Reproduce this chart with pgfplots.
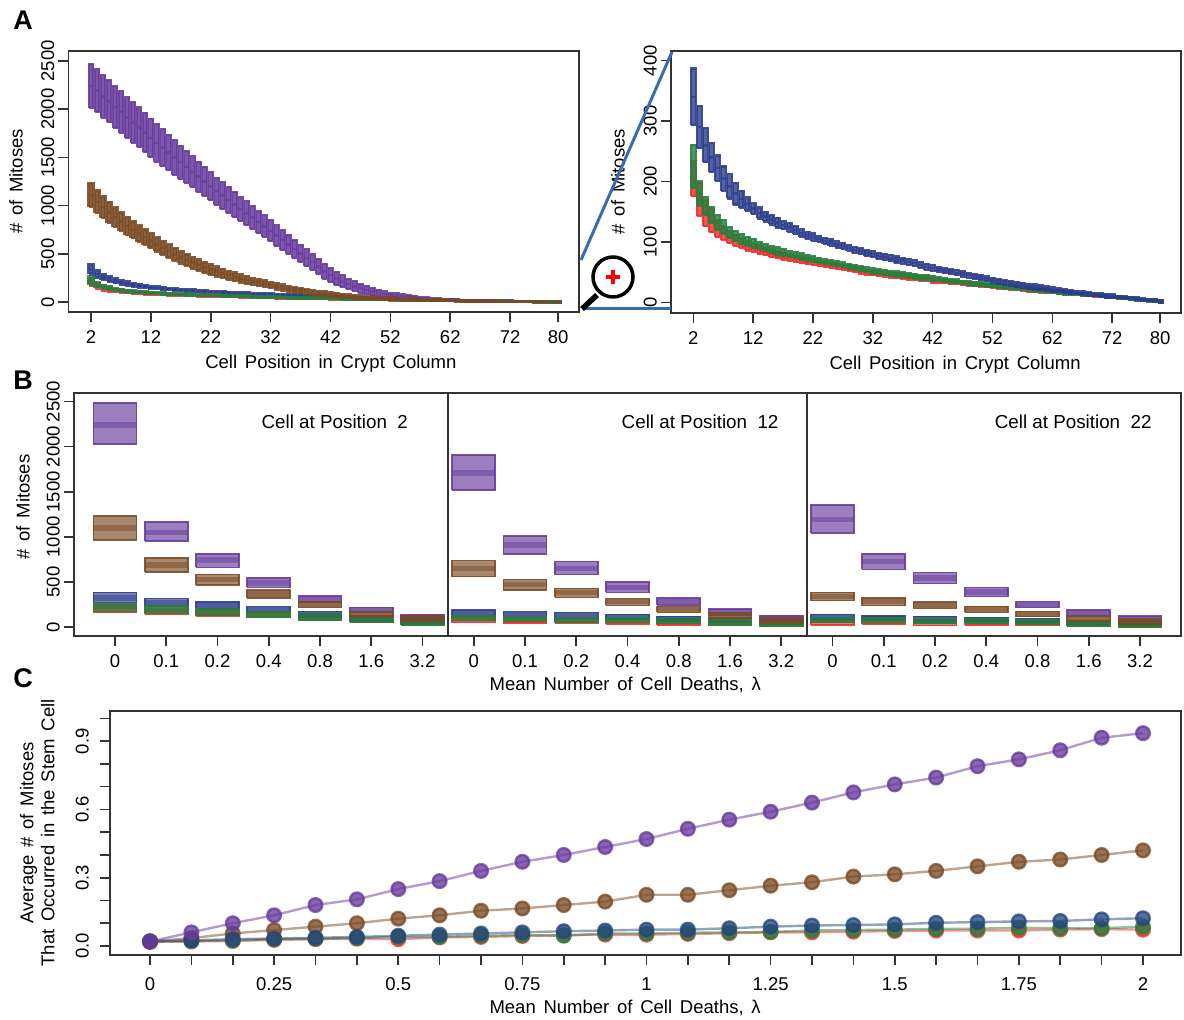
\documentclass[border=0pt]{standalone}
\usepackage{fontspec}
\setmainfont{Liberation Sans}
\usepackage{pgfplots}
\usepackage{pgfplotstable}
\pgfplotsset{compat=1.18}
\definecolor{cP}{HTML}{663A9C}
\definecolor{cBr}{HTML}{7A4A24}
\definecolor{cB}{HTML}{2B3C8C}
\definecolor{cG}{HTML}{26803C}
\definecolor{cR}{HTML}{EE2B2B}
\definecolor{cBc}{HTML}{24467F}
\definecolor{axisc}{HTML}{333333}
\definecolor{linkc}{HTML}{3B6AAE}
\pgfplotstableread[row sep=\\]{x m e\\
2 2240 225\\3 2190 222\\4 2130 220\\5 2080 218\\6 2020 216\\7 1970 214\\8 1910 212\\9 1860 210\\10 1810 206\\11 1755 203\\12 1700 200\\13 1650 195\\14 1600 190\\15 1550 185\\16 1500 178\\17 1450 172\\18 1400 167\\19 1350 161\\20 1300 155\\21 1250 150\\22 1200 145\\23 1150 141\\24 1105 138\\25 1060 134\\26 1010 131\\27 965 127\\28 920 124\\29 875 120\\30 830 117\\31 785 113\\32 740 110\\33 690 106\\34 645 103\\35 600 99\\36 550 96\\37 505 92\\38 460 88\\39 415 85\\40 370 81\\41 320 78\\42 280 75\\43 245 70\\44 215 62\\45 190 55\\46 165 50\\47 145 45\\48 125 40\\49 110 36\\50 95 32\\51 85 28\\52 75 25\\53 68 23\\54 60 21\\55 54 19\\56 48 17\\57 43 15\\58 38 14\\59 34 13\\60 30 12\\61 27 11\\62 25 10\\63 22 9\\64 20 8\\65 18 8\\66 16 7\\67 14 7\\68 12 6\\69 11 6\\70 10 6\\71 9 5\\72 8 5\\73 7 4\\74 6 4\\75 5 4\\76 4.5 3\\77 4 3\\78 3 3\\79 2.5 2\\80 2 2\\
}\posP
\pgfplotstableread[row sep=\\]{x m e\\
2 1110 125\\3 1040 118\\4 985 112\\5 930 106\\6 880 100\\7 835 96\\8 790 92\\9 750 87\\10 710 83\\11 675 79\\12 640 75\\13 600 72\\14 563 69\\15 528 67\\16 495 64\\17 465 62\\18 436 60\\19 409 58\\20 384 56\\21 360 54\\22 338 52\\23 317 50\\24 298 47\\25 280 45\\26 262 43\\27 246 41\\28 231 39\\29 216 37\\30 203 35\\31 190 33\\32 178 31\\33 165 30\\34 152 29\\35 141 28\\36 130 27\\37 120 26\\38 112 25\\39 103 24\\40 95 23\\41 87 22\\42 80 22\\43 74 20\\44 68 19\\45 62 18\\46 57 17\\47 52 16\\48 48 15\\49 44 14\\50 41 13\\51 38 13\\52 35 12\\53 33 11\\54 31 11\\55 29 10\\56 27 10\\57 25 9\\58 23 9\\59 22 8\\60 20 8\\61 19 8\\62 18 7\\63 17 7\\64 16 6\\65 15 6\\66 14 6\\67 13 5\\68 12 5\\69 11 5\\70 10 4\\71 9 4\\72 8 4\\73 7 4\\74 6 3\\75 5.5 3\\76 5 3\\77 4 3\\78 3 2\\79 2.5 2\\80 2 2\\
}\posBr
\pgfplotstableread[row sep=\\]{x m e\\
2 340 47\\3 290 35\\4 260 28\\5 240 24\\6 222 21\\7 205 20\\8 192 20\\9 180 18\\10 171 14\\11 163 11\\12 155 9\\13 148 9\\14 142 8\\15 137 8\\16 132 8\\17 128 7\\18 124 7\\19 120 7\\20 115 6\\21 111 6\\22 108 6\\23 105 5\\24 102 5\\25 99 5\\26 96 5\\27 93 5\\28 90 5\\29 87 5\\30 85 5\\31 82 5\\32 80 5\\33 77 5\\34 75 5\\35 73 5\\36 71 5\\37 69 5\\38 67 5\\39 65 5\\40 62 5\\41 59 5\\42 57 5\\43 55 4\\44 53 4\\45 51 4\\46 49 4\\47 47 4\\48 45 4\\49 43 4\\50 41 4\\51 39 4\\52 37 4\\53 35 4\\54 33 4\\55 31.5 4\\56 30 4\\57 28.5 4\\58 27 4\\59 25.5 4\\60 24 4\\61 22.5 4\\62 21 4\\63 20 3\\64 19 3\\65 17.5 3\\66 16.5 3\\67 15 3\\68 14 3\\69 13 3\\70 12 3\\71 11 3\\72 10 3\\73 9 2\\74 8 2\\75 7 2\\76 6 2\\77 5 2\\78 4 2\\79 3 2\\80 2 2\\
}\posB
\pgfplotstableread[row sep=\\]{x m e\\
2 225 36\\3 180 20\\4 160 15\\5 145 13\\6 132 12\\7 125 11\\8 116 9\\9 110 8\\10 105 8\\11 101 7\\12 98 7\\13 94 6\\14 91 6\\15 88 6\\16 85 6\\17 83 6\\18 80 5\\19 78 5\\20 76 5\\21 74 5\\22 72 5\\23 70 4\\24 68 4\\25 66 4\\26 64 4\\27 62 4\\28 60 4\\29 58 4\\30 56 4\\31 54 4\\32 52 4\\33 51 4\\34 49 4\\35 48 4\\36 47 4\\37 46 4\\38 45 4\\39 43 4\\40 42 4\\41 41 4\\42 40 4\\43 39 3\\44 37 3\\45 36 3\\46 35 3\\47 33 3\\48 32 3\\49 31 3\\50 30 3\\51 29 3\\52 28 3\\53 27 3\\54 26 3\\55 25 3\\56 24 3\\57 23 3\\58 22 3\\59 21 3\\60 20 3\\61 19 3\\62 18 3\\63 17 3\\64 16 3\\65 15 3\\66 14 2\\67 13.5 2\\68 13 2\\69 12 2\\70 11 2\\71 10 2\\72 9 2\\73 8 2\\74 7 2\\75 6 2\\76 5 2\\77 4 2\\78 3.5 2\\79 3 2\\80 2 2\\
}\posG
\pgfplotstableread[row sep=\\]{x m e\\
2 205 29\\3 170 27\\4 148 22\\5 135 19\\6 122 14\\7 115 12\\8 108 10\\9 103 9\\10 98 8\\11 94 8\\12 90 6\\13 87 6\\14 84 6\\15 81 6\\16 78 5\\17 76 5\\18 74 5\\19 72 5\\20 70 5\\21 68 5\\22 67 5\\23 65 4\\24 63 4\\25 61 4\\26 60 4\\27 58 4\\28 56 4\\29 54 4\\30 52 4\\31 50 4\\32 49 4\\33 48 4\\34 47 4\\35 45 4\\36 44 4\\37 43 4\\38 42 4\\39 41 4\\40 40 4\\41 39 4\\42 37 4\\43 36 3\\44 35 3\\45 34 3\\46 33 3\\47 32 3\\48 31 3\\49 30 3\\50 29 3\\51 28 3\\52 27 3\\53 26 3\\54 25 3\\55 24 3\\56 23 3\\57 22 3\\58 21 3\\59 20 3\\60 19 3\\61 18.5 3\\62 18 3\\63 17 3\\64 16 3\\65 15 3\\66 14 2\\67 13 2\\68 12 2\\69 11 2\\70 10.5 2\\71 10 2\\72 9 2\\73 8 2\\74 7 2\\75 6 2\\76 5 2\\77 4 2\\78 3 2\\79 2.5 2\\80 2 2\\
}\posR
% Panel B: x lo med hi, positions 2, 12, 22 at lambda 0 ... 3.2
\pgfplotstableread[row sep=\\]{x lo m hi\\
0 2027 2240 2485\\1 953 1050 1163\\2 661 740 812\\3 439 490 543\\4 273 310 343\\5 162 190 214\\6 96 115 133\\
7 1518 1710 1905\\8 809 910 1008\\9 580 650 727\\10 384 440 499\\11 247 285 321\\12 129 165 199\\13 89 105 125\\
14 1045 1193 1355\\15 639 725 809\\16 480 545 606\\17 336 390 436\\18 214 250 284\\19 122 155 185\\20 70 95 122\\
}\bP
\pgfplotstableread[row sep=\\]{x lo m hi\\
0 967 1100 1233\\1 609 690 768\\2 465 528 583\\3 321 365 410\\4 214 250 280\\5 107 140 173\\6 59 95 122\\
7 558 650 735\\8 410 470 528\\9 329 380 428\\10 240 280 314\\11 162 195 225\\12 100 130 162\\13 41 80 107\\
14 292 340 384\\15 236 280 321\\16 207 240 277\\17 162 198 229\\18 114 142 170\\19 63 98 129\\20 33 65 92\\
}\bBr
\pgfplotstableread[row sep=\\]{x lo m hi\\
0 273 320 384\\1 233 270 318\\2 199 235 277\\3 162 195 225\\4 111 140 170\\5 59 90 122\\6 33 70 96\\
7 122 155 188\\8 107 140 170\\9 100 130 159\\10 89 115 140\\11 63 90 114\\12 48 72 96\\13 30 55 78\\
14 78 110 137\\15 70 98 125\\16 63 90 118\\17 59 83 107\\18 41 68 92\\19 22 48 70\\20 11 38 63\\
}\bB
\pgfplotstableread[row sep=\\]{x lo m hi\\
0 170 225 262\\1 151 195 233\\2 133 170 207\\3 111 140 170\\4 78 115 151\\5 52 85 114\\6 22 65 89\\
7 70 95 122\\8 59 88 114\\9 52 80 107\\10 48 75 100\\11 37 65 92\\12 18 55 85\\13 11 40 59\\
14 48 80 107\\15 48 75 100\\16 41 68 92\\17 41 67 92\\18 30 55 81\\19 11 38 63\\20 0 28 52\\
}\bG
\pgfplotstableread[row sep=\\]{x lo m hi\\
0 159 215 244\\1 140 185 225\\2 125 155 190\\3 103 130 160\\4 78 108 140\\5 50 80 110\\6 22 60 78\\
7 48 85 110\\8 41 80 107\\9 41 72 96\\10 33 68 92\\11 22 60 85\\12 15 50 78\\13 4 35 59\\
14 22 70 96\\15 30 68 92\\16 15 60 85\\17 22 60 85\\18 15 50 78\\19 11 36 59\\20 -4 25 48\\
}\bR
% Panel C
\pgfplotstableread[row sep=\\]{x P Br B G R\\
0 .02 .02 .02 .02 .018\\
.0833 .06 .035 .025 .022 .02\\
.1667 .10 .055 .03 .025 .022\\
.25 .135 .07 .033 .03 .027\\
.3333 .18 .085 .036 .032 .03\\
.4167 .205 .10 .04 .035 .032\\
.5 .25 .12 .045 .04 .03\\
.5833 .285 .135 .05 .04 .038\\
.6667 .33 .155 .055 .045 .04\\
.75 .37 .165 .06 .048 .044\\
.8333 .40 .18 .065 .045 .048\\
.9167 .435 .195 .068 .055 .05\\
1 .47 .225 .072 .055 .05\\
1.0833 .515 .225 .072 .058 .053\\
1.1667 .555 .245 .078 .06 .056\\
1.25 .59 .265 .085 .062 .06\\
1.3333 .63 .28 .09 .068 .06\\
1.4167 .675 .305 .092 .07 .063\\
1.5 .71 .315 .095 .072 .066\\
1.5833 .74 .33 .102 .075 .068\\
1.6667 .79 .35 .105 .076 .068\\
1.75 .82 .37 .108 .08 .068\\
1.8333 .86 .38 .11 .078 .072\\
1.9167 .915 .40 .117 .078 .074\\
2 .935 .42 .122 .085 .072\\
}\lam
\newcommand{\appendbox}[5]{%
 \pgfmathsetmacro\xa{#1-#5}\pgfmathsetmacro\xb{#1+#5}%
 \xdef\rectpath{\rectpath (\xa,#2)(\xb,#2)(\xb,#4)(\xa,#4)(\xa,#2)(\xa,nan)}%
 \xdef\medpath{\medpath (\xa,#3)(\xb,#3)(\xa,nan)}%
}
% table with columns x m e; name; half width of a box in x units
\newcommand{\buildA}[3]{%
 \gdef\rectpath{}\gdef\medpath{}%
 \pgfplotstablegetrowsof{#1}\pgfmathtruncatemacro\nr{\pgfplotsretval-1}%
 \pgfplotsforeachungrouped \i in {0,...,\nr}{%
  \pgfplotstablegetelem{\i}{x}\of{#1}\let\vx\pgfplotsretval
  \pgfplotstablegetelem{\i}{m}\of{#1}\let\vm\pgfplotsretval
  \pgfplotstablegetelem{\i}{e}\of{#1}\let\ve\pgfplotsretval
  \pgfmathsetmacro\vlo{\vm-\ve}\pgfmathsetmacro\vhi{\vm+\ve}%
  \appendbox{\vx}{\vlo}{\vm}{\vhi}{#3}%
 }%
 \global\expandafter\let\csname rect#2\endcsname\rectpath
 \global\expandafter\let\csname med#2\endcsname\medpath
}
% table with columns x lo m hi
\newcommand{\buildB}[3]{%
 \gdef\rectpath{}\gdef\medpath{}%
 \pgfplotstablegetrowsof{#1}\pgfmathtruncatemacro\nr{\pgfplotsretval-1}%
 \pgfplotsforeachungrouped \i in {0,...,\nr}{%
  \pgfplotstablegetelem{\i}{x}\of{#1}\let\vx\pgfplotsretval
  \pgfplotstablegetelem{\i}{m}\of{#1}\let\vm\pgfplotsretval
  \pgfplotstablegetelem{\i}{lo}\of{#1}\let\vlo\pgfplotsretval
  \pgfplotstablegetelem{\i}{hi}\of{#1}\let\vhi\pgfplotsretval
  \appendbox{\vx}{\vlo}{\vm}{\vhi}{#3}%
 }%
 \global\expandafter\let\csname rect#2\endcsname\rectpath
 \global\expandafter\let\csname med#2\endcsname\medpath
}
\buildA{\posP}{AP}{.40}\buildA{\posBr}{ABr}{.40}\buildA{\posB}{AB}{.40}\buildA{\posG}{AG}{.40}\buildA{\posR}{AR}{.40}
\buildB{\bP}{BP}{.42}\buildB{\bBr}{BBr}{.42}\buildB{\bB}{BB}{.42}\buildB{\bG}{BG}{.42}\buildB{\bR}{BR}{.42}
% name, colour, fill opacity, outline width, median width, median opacity
\newcommand{\drawboxes}[6]{%
 \edef\temp{\noexpand\addplot[forget plot,mark=none,unbounded coords=jump,draw=#2,fill=#2,fill opacity=#3,draw opacity=.88,line width=#4] coordinates {\csname rect#1\endcsname};
 \noexpand\addplot[forget plot,mark=none,unbounded coords=jump,draw=#2,line width=#5,draw opacity=#6] coordinates {\csname med#1\endcsname};}\temp
}
\newcommand{\lineC}[2]{%
 \addplot[color=#2,line width=2.4pt,opacity=.5,mark=*,mark size=6.8pt,mark options={draw=none,fill=#2,opacity=.78},forget plot] table[x=x,y=#1]{\lam};
}
\newcommand{\lblfont}{\fontsize{18.5}{21}\selectfont\spaceskip=.42em plus .1em\relax}
\pgfplotsset{myaxis/.style={
  scale only axis,axis line style={draw=axisc,line width=1.9pt},
  tick style={draw=axisc,line width=1.6pt},tick align=outside,major tick length=10pt,
  xtick pos=lower,ytick pos=lower,clip=true,
  ticklabel style={font=\fontsize{18.5}{20}\selectfont},
  /pgf/number format/assume math mode=true,/pgf/number format/1000 sep={},
  yticklabel style={rotate=90,anchor=south,inner sep=1pt},
  xticklabel shift={5pt},yticklabel shift={3pt},
  scaled ticks=false,
  every axis y label/.style={rotate=90,anchor=center,font=\lblfont},
  every axis x label/.style={anchor=center,font=\lblfont},
}}
\begin{document}
\begin{tikzpicture}[x=1pt,y=1pt]
\useasboundingbox (0,0) rectangle (1184,1020);
% Panel A left
\begin{axis}[myaxis,at={(68.5pt,707.7pt)},anchor=south west,width=510.5pt,height=261.6pt,
  xmin=-1.76,xmax=83.5,ymin=-104,ymax=2604,
  xtick={2,12,22,32,42,52,62,72,80},ytick={0,500,1000,1500,2000,2500},
  xlabel={Cell Position in Crypt Column},ylabel={\# of Mitoses},
  xlabel style={at={(axis description cs:0.514,-0.197)}},
  ylabel style={at={(axis description cs:-0.103,0.5)}}]
\drawboxes{AR}{cR}{.8}{3.2pt}{2.5pt}{.7}
\drawboxes{AB}{cB}{.8}{3.2pt}{2.5pt}{.7}
\drawboxes{AG}{cG}{.8}{3.2pt}{2.5pt}{.7}
\drawboxes{AP}{cP}{.85}{2pt}{2.5pt}{.7}
\drawboxes{ABr}{cBr}{.88}{2.6pt}{2.5pt}{.7}
\end{axis}
% Panel A right
\begin{axis}[myaxis,at={(671pt,707.3pt)},anchor=south west,width=510pt,height=262pt,
  xmin=-1.73,xmax=83.5,ymin=-17,ymax=416.5,
  xtick={2,12,22,32,42,52,62,72,80},ytick={0,100,200,300,400},
  xlabel={Cell Position in Crypt Column},ylabel={\# of Mitoses},
  xlabel style={at={(axis description cs:0.557,-0.197)}},
  ylabel style={at={(axis description cs:-0.104,0.5)}}]
\drawboxes{AR}{cR}{.8}{2.2pt}{2.5pt}{.7}
\drawboxes{AG}{cG}{.8}{2.2pt}{2.5pt}{.7}
\drawboxes{AB}{cB}{.8}{2.2pt}{2.5pt}{.7}
\end{axis}
% Panel B
\begin{axis}[myaxis,at={(74pt,384pt)},anchor=south west,width=1107pt,height=243.3pt,
  xmin=-0.8,xmax=20.8,ymin=-100,ymax=2598,
  xtick={0,1,...,20},ytick={0,500,1000,1500,2000,2500},
  xticklabels={0,0.1,0.2,0.4,0.8,1.6,3.2,0,0.1,0.2,0.4,0.8,1.6,3.2,0,0.1,0.2,0.4,0.8,1.6,3.2},
  xlabel={Mean Number of Cell Deaths, λ},ylabel={\# of Mitoses},
  xlabel style={at={(axis description cs:0.498,-0.2)}},
  ylabel style={at={(axis description cs:-0.046,0.53)}}]
\drawboxes{BR}{cR}{.65}{1.6pt}{5.5pt}{.5}
\drawboxes{BB}{cB}{.65}{1.6pt}{5.5pt}{.5}
\drawboxes{BG}{cG}{.65}{1.6pt}{5.5pt}{.5}
\drawboxes{BP}{cP}{.65}{1.6pt}{5.5pt}{.5}
\drawboxes{BBr}{cBr}{.65}{1.6pt}{5.5pt}{.5}
\draw[axisc,line width=1.9pt] (axis cs:6.5,-100)--(axis cs:6.5,2598);
\draw[axisc,line width=1.9pt] (axis cs:13.5,-100)--(axis cs:13.5,2598);
\node[anchor=east,inner sep=0pt,font=\fontsize{18.8}{20}\selectfont] at (axis cs:5.72,2273) {Cell at Position\ \ 2};
\node[anchor=east,inner sep=0pt,font=\fontsize{18.8}{20}\selectfont] at (axis cs:12.95,2273) {Cell at Position\ \ 12};
\node[anchor=east,inner sep=0pt,font=\fontsize{18.8}{20}\selectfont] at (axis cs:20.23,2273) {Cell at Position\ \ 22};
\end{axis}
% Panel C
\begin{axis}[myaxis,at={(110pt,65pt)},anchor=south west,width=1071pt,height=244pt,
  xmin=-0.0806,xmax=2.0765,ymin=-0.0395,ymax=1.0325,
  xticklabel shift={9pt},yticklabel shift={10pt},
  xtick={0,.0833,.1667,.25,.3333,.4167,.5,.5833,.6667,.75,.8333,.9167,1,1.0833,1.1667,1.25,1.3333,1.4167,1.5,1.5833,1.6667,1.75,1.8333,1.9167,2},
  xticklabels={0,,,0.25,,,0.5,,,0.75,,,1,,,1.25,,,1.5,,,1.75,,,2},
  ytick={0,.1,.2,.3,.4,.5,.6,.7,.8,.9,1},
  yticklabels={0.0,,,0.3,,,0.6,,,0.9,},
  xlabel={Mean Number of Cell Deaths, λ},
  ylabel={Average \# of Mitoses\\That Occurred in the Stem Cell},
  ylabel style={align=center,at={(axis description cs:-0.068,0.5)}},
  xlabel style={at={(axis description cs:0.481,-0.218)}}]
\lineC{R}{cR}\lineC{G}{cG}\lineC{Br}{cBr}\lineC{B}{cBc}\lineC{P}{cP}
\end{axis}
% Zoom decoration
\draw[linkc,line width=3pt] (581,760)--(672,968);
\draw[linkc,line width=3pt] (585,711)--(671,711);
\draw[black,line width=3.5pt] (613,743) circle (20);
\draw[black,line width=5.5pt] (597,725)--(582,711);
\draw[red,line width=3.2pt] (606,743)--(620,743) (613,736)--(613,750);
% Panel letters
\node[font=\bfseries\fontsize{27}{28}\selectfont,inner sep=0pt] at (23,1000) {A};
\node[font=\bfseries\fontsize{27}{28}\selectfont,inner sep=0pt] at (23,640) {B};
\node[font=\bfseries\fontsize{27}{28}\selectfont,inner sep=0pt] at (23,342) {C};
\end{tikzpicture}
\end{document}
